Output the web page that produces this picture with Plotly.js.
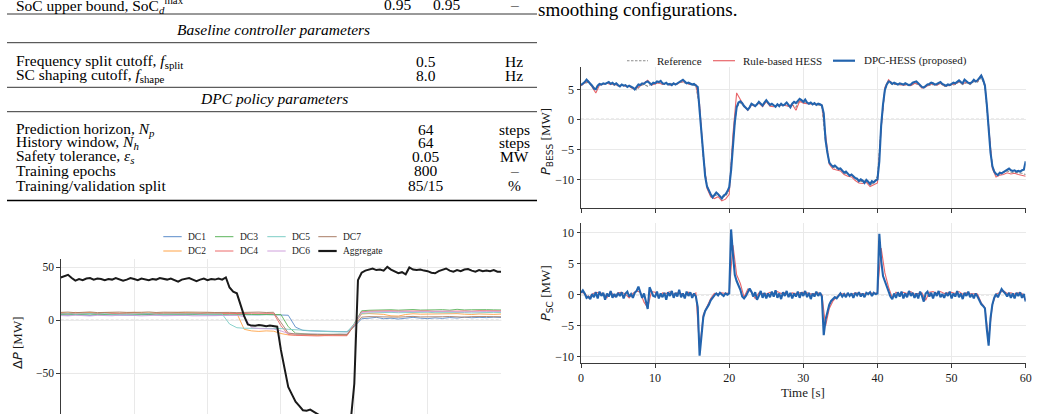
<!DOCTYPE html>
<html>
<head>
<meta charset="utf-8">
<script src="https://cdn.plot.ly/plotly-3.0.1.min.js"></script>
<style>
  html, body { margin: 0; padding: 0; background: #ffffff; }
  #fig { width: 1038px; height: 414px; }
</style>
</head>
<body>
<div id="fig"></div>
<script>
// ---------------- HESS power split, 60 s test profile ----------------
// Sampled series: BESS/SC of the proposed controller at 0.25 s, the rest at 0.5 s.
const HESS_T0 = 0;
const DT_FINE = 0.25;
const DT_COARSE = 0.5;

const pBessDpc = [
  5.7, 5.9, 6.2, 6.6, 6.3, 6.0, 5.6, 5.1, 5.0, 5.6, 5.9, 5.8, 6.0, 5.9, 6.1, 6.2, 5.9, 6.1, 5.8, 6.0,
  5.7, 5.5, 5.8, 5.6, 5.7, 5.4, 5.6, 5.5, 5.3, 5.0, 5.4, 5.8, 5.7, 6.0, 5.9, 6.2, 6.3, 6.0, 5.8, 6.1,
  6.0, 6.3, 6.2, 6.4, 6.0, 5.9, 6.1, 5.8, 5.9, 5.7, 6.0, 5.8, 6.0, 6.2, 6.4, 6.6, 6.3, 6.0, 6.1, 5.9,
  5.8, 5.9, 5.7, 5.4, 1.5, -2.5, -6.8, -9.5, -11.2, -12.0, -12.5, -13.0, -12.6, -12.2, -12.5, -12.9, -13.2, -12.7, -12.5, -12.0,
  -11.3, -8.5, -4.0, -0.5, 2.0, 2.8, 3.0, 2.7, 2.2, 1.9, 1.6, 2.0, 2.6, 2.4, 2.2, 2.5, 2.9, 2.6, 2.3, 2.8,
  3.2, 2.8, 2.4, 2.6, 2.3, 2.1, 2.5, 2.2, 2.6, 2.3, 2.5, 2.8, 2.4, 2.0, 2.6, 2.9, 2.7, 3.1, 3.4, 3.2,
  2.9, 3.3, 2.8, 2.6, 2.8, 2.5, 2.7, 2.4, 2.6, 2.5, 2.3, 1.0, -3.5, -5.6, -7.2, -7.6, -7.9, -7.7, -8.1, -8.3,
  -8.2, -8.6, -8.9, -8.7, -9.1, -9.4, -9.2, -9.6, -9.8, -9.9, -10.3, -10.0, -10.2, -10.6, -10.1, -10.4, -10.8, -10.3, -10.5, -10.2,
  -10.0, -7.0, -1.0, 2.5, 4.9, 5.8, 6.3, 6.2, 5.9, 6.1, 6.0, 5.8, 6.0, 5.9, 5.8, 6.0, 5.9, 5.7, 5.8, 6.1,
  6.2, 6.3, 6.0, 5.7, 5.4, 5.3, 5.6, 5.8, 5.9, 6.1, 6.0, 5.8, 5.9, 6.0, 6.2, 5.9, 5.7, 5.6, 5.8, 5.7,
  5.9, 6.1, 6.0, 6.3, 6.5, 6.2, 6.0, 6.6, 6.3, 6.1, 6.0, 6.2, 6.6, 6.3, 6.5, 7.0, 7.3, 6.6, 5.6, 2.5,
  -1.5, -5.5, -7.8, -8.7, -9.1, -9.3, -8.9, -9.0, -8.8, -8.6, -8.3, -8.2, -8.5, -8.6, -8.5, -8.7, -8.6, -8.7, -8.5, -8.4,
  -7.0
];

const pBessRule = [
  5.6, 6.1, 6.4, 5.3, 4.4, 5.7, 5.9, 6.0, 5.8, 5.9,
  5.6, 5.7, 5.5, 5.5, 5.1, 5.2, 5.6, 6.1, 6.5, 5.7,
  5.9, 6.1, 5.8, 6.0, 5.7, 5.9, 5.9, 6.3, 6.2, 5.9,
  5.8, 5.8, 2.5, -6.0, -11.5, -12.9, -13.2, -12.9, -13.6, -13.3,
  -12.5, -2.5, 4.4, 3.4, 2.2, 1.5, 2.4, 2.2, 2.7, 2.1,
  3.0, 2.2, 2.1, 2.3, 2.4, 2.3, 2.2, 2.5, 1.5, 3.0,
  2.7, 2.6, 2.6, 2.5, 2.5, 2.4, -3.0, -7.5, -8.3, -8.5,
  -8.6, -9.2, -9.5, -9.6, -10.2, -10.6, -10.7, -10.5, -11.2, -10.9,
  -10.6, -1.5, 5.3, 6.6, 6.0, 5.9, 5.8, 5.7, 5.8, 5.6,
  6.0, 5.9, 5.2, 5.4, 5.8, 5.9, 5.7, 6.0, 5.6, 5.6,
  5.8, 5.9, 6.3, 5.9, 6.2, 5.9, 6.4, 6.3, 7.4, 5.8,
  -1.0, -8.2, -9.6, -9.3, -9.2, -8.9, -9.1, -9.0, -9.2, -9.3,
  -9.5
];

const pBessRef = [
  5.8, 6.0, 6.2, 5.5, 5.2, 5.8, 5.9, 6.0, 6.0, 5.7,
  5.6, 5.7, 5.6, 5.4, 5.2, 4.9, 5.6, 5.8, 5.5, 5.9,
  6.0, 6.1, 5.9, 5.9, 5.8, 5.8, 5.9, 6.2, 6.1, 5.9,
  5.7, 5.6, 2.0, -6.5, -11.0, -12.6, -12.7, -12.6, -13.0, -12.8,
  -11.8, -3.5, 2.0, 2.8, 2.1, 1.7, 2.5, 2.3, 2.8, 2.3,
  2.9, 2.3, 2.1, 2.3, 2.3, 2.4, 2.2, 2.4, 2.0, 3.2,
  2.8, 2.7, 2.6, 2.6, 2.4, 2.2, -3.8, -7.4, -8.0, -8.2,
  -8.3, -8.9, -9.2, -9.3, -9.9, -10.2, -10.4, -10.2, -10.9, -10.6,
  -9.5, -1.2, 5.0, 6.2, 5.8, 5.8, 5.8, 5.7, 5.7, 5.6,
  6.0, 5.8, 5.3, 5.5, 5.7, 5.8, 5.7, 6.0, 5.5, 5.6,
  5.7, 5.8, 6.2, 5.8, 6.1, 5.8, 6.3, 6.2, 7.0, 5.5,
  -1.5, -7.9, -9.2, -9.0, -8.9, -8.6, -8.8, -8.8, -8.9, -9.0,
  -9.2
];

const pScDpc = [
  0.3, 0.7, 0.2, -0.5, -0.3, -0.7, 0.1, -0.4, 0.4, -0.6, 0.5, -0.2, 0.3, -0.8, 0.2, -0.3, 0.6, -0.5, 0.1, -0.4,
  0.3, -0.2, 0.4, -0.6, 0.2, 0.5, -0.3, 0.1, -0.5, 0.3, 0.6, 1.3, 0.4, -0.5, 0.2, -1.2, -2.3, 1.2, 0.5, -0.2,
  -0.3, 0.5, -0.6, 0.2, -0.4, 0.3, -0.8, 0.4, -0.2, 0.6, -0.5, 0.3, -0.3, 0.8, -0.4, 0.2, -0.6, 0.5, -0.2, 0.4,
  -0.5, 0.2, -0.3, -2.0, -9.8, -7.0, -3.6, -2.6, -2.2, -1.6, -0.9, -0.4, -0.1, 0.2, -0.1, 0.3, 0.1, -0.2, 0.2, 0.0,
  0.2, 10.5, 6.5, 3.2, 2.2, 1.5, 0.8, -0.3, -0.6, -0.2, 0.3, 1.0, 0.5, -0.3, 0.4, -0.8, -0.2, 0.6, -0.5, 0.3,
  -0.6, 0.2, -0.4, 0.5, -0.3, 0.7, -0.5, 0.2, -0.7, 0.4, -0.2, 0.6, -0.4, 0.3, -0.6, 0.2, -0.3, 0.5, -0.5, 0.4,
  -0.2, 0.6, -0.4, 0.3, -0.7, 0.2, -0.3, 0.5, -0.2, 0.3, -0.3, -6.5, -4.0, -2.5, -1.6, -1.0, -0.7, -0.4, -0.6, -0.2,
  0.2, -0.3, 0.1, -0.4, 0.3, -0.2, 0.2, -0.5, 0.3, -0.1, 0.4, -0.3, 0.2, -0.4, 0.3, 0.1, 0.4, -0.2, 0.3, 0.1,
  0.2, 9.8, 5.5, 3.0, 2.2, 1.6, 0.5, -0.3, -0.7, 0.2, -0.5, 0.4, -0.3, 0.5, -0.6, 0.2, -0.4, 0.6, -0.2, 0.3,
  -0.5, 0.2, -0.6, 0.5, -0.2, -1.1, 0.2, 0.5, -0.3, 0.3, -0.6, 0.4, -0.2, 0.6, -0.4, 0.1, -0.5, 0.3, -0.2, 0.5,
  -0.6, 0.2, -0.3, 0.6, -0.4, 0.2, -0.7, 0.3, -0.2, 0.5, -0.4, 0.1, -0.6, 0.2, -0.3, -1.0, -1.5, -1.8, -2.2, -5.5,
  -8.2, -3.8, -1.6, -0.5, 0.1, -0.4, 0.4, 0.9, 0.5, 0.2, -0.3, 0.3, -0.5, 0.2, -0.6, 0.3, -0.2, 0.4, -0.5, 0.1,
  -1.1
];

const pScRule = [
  0.4, 0.2, -0.5, 0.1, 0.4, 0.3, 0.2, -0.5, 0.5, -0.3,
  0.3, 0.4, 0.1, -0.5, 0.2, 0.6, 0.4, -1.2, -2.1, 0.5,
  0.4, -0.5, 0.3, 0.2, 0.5, 0.1, 0.3, 0.2, -0.1, 0.4,
  0.0, 0.3, -8.8, -3.2, -1.8, -0.6, 0.2, 0.1, 0.3, 0.2,
  0.3, 8.0, 3.2, 1.8, -0.4, 0.9, 0.4, -0.6, 0.3, 0.2,
  0.1, 0.4, 0.2, 0.5, 0.2, 0.3, -0.1, 0.3, 0.2, 0.3,
  0.4, 0.3, 0.1, 0.2, 0.3, 0.0, -5.0, -2.2, -1.0, -0.4,
  0.2, 0.1, 0.1, 0.0, 0.3, 0.2, 0.1, 0.2, 0.3, 0.2,
  0.3, 7.5, 3.5, 1.2, -0.5, 0.4, 0.1, 0.4, 0.2, 0.5,
  0.1, 0.2, 0.3, -0.9, 0.4, 0.5, 0.2, 0.5, 0.2, 0.3,
  0.4, 0.2, 0.5, 0.1, 0.3, 0.2, 0.2, 0.1, -1.3, -2.1,
  -7.2, -1.6, 0.1, 0.4, 0.6, 0.2, 0.3, 0.1, 0.3, 0.2,
  -0.9
];

// ---------------- Per-data-centre power deviation ----------------
const DC_X0 = 0;
const DC_STEP = 1;
const AGG_STEP = 0.5;

const dc1 = [
  5.2, 4.8, 5.5, 5.0, 4.6, 5.3, 5.1, 4.9, 5.4, 5.0,
  4.7, 5.2, 5.5, 5.0, 4.8, 5.3, 5.1, 4.9, 5.2, 5.4,
  5.0, 4.8, 5.1, 5.3, 5.0, 5.2, 4.9, 5.1, 5.4, 5.2,
  5.0, 4.8, -6.5, -9.5, -10.0, -10.3, -10.6, -10.8, -11.0, -10.8,
  -6.0, 1.5, 2.0, 2.8, 1.5, 2.0, 1.2, 2.2, 2.8, 2.0,
  1.6, 2.3, 1.8, 2.6, 2.1, 3.0, 2.4, 2.8, 2.5, 3.0,
  2.7
];
const dc2 = [
  7.2, 6.8, 7.5, 7.0, 7.3, 6.9, 7.4, 7.1, 6.7, 7.2,
  7.5, 7.0, 6.8, 7.3, 7.1, 6.9, 7.4, 7.0, 7.2, 6.8,
  7.1, 7.3, 6.9, 7.0, 6.6, -8.5, -10.0, -10.5, -10.0, -10.3,
  -12.5, -13.8, -14.0, -14.2, -13.9, -14.1, -14.3, -14.0, -14.2, -14.1,
  -4.5, 6.0, 6.4, 5.8, 5.6, 4.2, 4.0, 5.5, 6.2, 5.8,
  6.0, 5.6, 6.1, 5.9, 6.3, 5.8, 5.5, 6.0, 5.7, 5.6,
  5.9
];
const dc3 = [
  5.5, 5.8, 5.2, 5.6, 5.9, 5.4, 5.7, 5.3, 5.6, 5.8,
  5.4, 5.6, 5.2, 5.7, 5.5, 5.9, 5.3, 5.6, 5.4, 5.8,
  5.5, 5.2, 5.6, 5.8, 5.4, 5.7, 5.5, 5.3, 5.6, 5.4,
  5.5, -6.0, -12.2, -12.8, -13.0, -13.2, -12.9, -13.3, -13.1, -13.4,
  -3.0, 9.0, 9.5, 9.8, 9.4, 10.0, 9.6, 9.9, 10.2, 9.7,
  9.5, 9.9, 10.1, 9.6, 10.4, 9.8, 10.0, 9.7, 10.1, 9.9,
  9.8
];
const dc4 = [
  6.5, 6.2, 6.8, 6.4, 6.7, 6.3, 6.9, 6.5, 6.2, 6.6,
  6.8, 6.4, 6.6, 6.2, 6.7, 6.5, 6.9, 6.3, 6.6, 6.4,
  6.7, 6.5, 6.3, 6.8, 6.6, 6.4, 6.7, 6.5, 6.3, 6.6,
  -5.0, -13.5, -14.2, -14.6, -14.4, -14.8, -14.5, -14.7, -14.9, -14.6,
  -4.0, 8.0, 8.6, 8.9, 8.5, 9.0, 8.7, 8.8, 9.1, 8.6,
  8.9, 8.5, 8.8, 9.0, 8.7, 8.9, 8.6, 9.1, 8.8, 8.7,
  8.9
];
const dc5 = [
  6.0, 6.3, 5.8, 6.1, 6.4, 5.9, 6.2, 5.7, 6.0, 6.3,
  5.9, 6.1, 6.4, 5.8, 6.0, 6.2, 5.9, 6.3, 6.1, 5.8,
  6.0, 6.2, 5.9, -3.5, -7.0, -7.5, -7.6, -7.4, -7.7, -7.5,
  -7.8, -8.5, -9.0, -9.6, -10.0, -10.3, -10.5, -10.8, -10.6, -10.9,
  -3.5, 6.5, 7.0, 7.3, 7.1, 7.5, 7.2, 7.4, 7.0, 7.3,
  7.6, 7.2, 7.4, 7.1, 7.5, 7.3, 7.0, 7.4, 7.2, 7.5,
  7.3
];
const dc6 = [
  4.5, 4.2, 4.8, 4.4, 4.1, 4.7, 4.5, 4.3, 4.9, 4.4,
  4.6, 4.2, 4.5, 4.8, 4.3, 4.6, 4.4, 4.7, 4.2, 4.5,
  4.8, 4.4, 4.6, 4.3, 4.7, 3.5, -7.0, -7.8, -8.0, -8.2,
  -10.0, -12.5, -13.0, -12.8, -13.2, -13.0, -13.4, -13.1, -13.3, -13.0,
  -4.0, 7.5, 8.0, 8.3, 8.1, 8.4, 8.0, 8.5, 8.2, 8.3,
  8.1, 8.4, 8.2, 8.6, 8.0, 8.3, 8.5, 8.2, 8.4, 8.1,
  8.3
];
const dc7 = [
  7.5, 7.8, 7.2, 7.6, 7.9, 7.3, 7.7, 7.4, 7.8, 7.5,
  7.2, 7.6, 7.9, 7.4, 7.7, 7.3, 7.6, 7.8, 7.5, 7.2,
  7.6, 7.4, 7.8, 7.5, 7.3, 7.7, 7.5, 7.8, 7.4, 7.6,
  -2.0, -12.0, -13.0, -13.4, -13.2, -13.6, -13.3, -13.5, -13.8, -13.6,
  -5.0, 3.0, 3.5, 3.2, 3.6, 3.3, 3.0, 3.4, 3.7, 3.2,
  3.5, 3.1, 3.4, 3.6, 3.3, 3.0, 3.5, 3.2, 3.6, 3.4,
  3.4
];
const aggregate = [
  40.5, 41.5, 43.0, 40.0, 37.5, 39.0, 38.0, 39.5, 40.0, 38.5,
  39.5, 39.0, 38.0, 39.0, 38.5, 40.0, 39.0, 37.5, 38.5, 40.0,
  39.0, 38.0, 39.5, 38.5, 38.0, 39.0, 38.5, 40.0, 39.0, 38.5,
  39.5, 38.0, 36.5, 38.5, 39.5, 40.0, 38.5, 37.0, 38.5, 39.5,
  38.0, 39.0, 38.5, 39.5, 38.5, 40.5, 31.0, 27.0, 25.5, 14.0,
  4.0, -4.0, -5.0, -5.2, -4.5, -5.0, -5.5, -5.0, -5.2, -6.0,
  -28.0, -47.0, -63.0, -70.0, -77.0, -81.0, -85.0, -85.5, -84.5, -86.5,
  -89.0, -91.0, -93.0, -94.0, -95.0, -95.5, -96.0, -95.5, -96.5, -96.0,
  -60.0, 38.0, 45.0, 47.0, 48.0, 49.0, 47.5, 48.0, 47.0, 50.5,
  48.0, 46.0, 44.5, 45.5, 43.5, 50.0, 48.0, 47.5, 48.0, 47.0,
  46.5, 45.0, 44.5, 46.5, 48.0, 49.0, 47.0, 46.0, 47.5, 46.5,
  48.0, 48.5, 47.0, 46.0, 47.5, 46.5, 47.0, 46.5, 47.5, 46.0,
  46.0
];

const dcNames = ['DC1', 'DC2', 'DC3', 'DC4', 'DC5', 'DC6', 'DC7'];
const dcSeries = [dc1, dc2, dc3, dc4, dc5, dc6, dc7];
const dcColors = ['#5b8cc9', '#ffa347', '#5cb45c', '#ec6a6a', '#7dcdc6', '#cfa0dc', '#a97d66'];

const hessNames = ['Reference', 'Rule-based HESS', 'DPC-HESS (proposed)'];
const hessColors = ['#8c8c8c', '#e8666a', '#2364ae'];

// ---------------- page geometry helpers (pixel -> paper) ----------------
const W = 1038, H = 414;
const px = x => x / W;
const py = y => 1 - y / H;

const SERIF = 'Liberation Serif, Times New Roman, serif';
const INK = '#1a1a1a';
const GRID = '#e9e9e9';
const SPINE = '#3a3a3a';

// ---------------- traces ----------------
const traces = [];

traces.push({
  type: 'scatter', mode: 'lines', name: hessNames[0],
  x0: HESS_T0, dx: DT_COARSE, y: pBessRef, xaxis: 'x', yaxis: 'y',
  line: { color: hessColors[0], width: 1.1, dash: '3px,1.5px' }, hoverinfo: 'skip'
});
traces.push({
  type: 'scatter', mode: 'lines', name: hessNames[1],
  x0: HESS_T0, dx: DT_COARSE, y: pBessRule, xaxis: 'x', yaxis: 'y',
  line: { color: hessColors[1], width: 1.1 }, hoverinfo: 'skip'
});
traces.push({
  type: 'scatter', mode: 'lines', name: hessNames[2],
  x0: HESS_T0, dx: DT_FINE, y: pBessDpc, xaxis: 'x', yaxis: 'y',
  line: { color: hessColors[2], width: 2.1 }, hoverinfo: 'skip'
});
traces.push({
  type: 'scatter', mode: 'lines', name: hessNames[1],
  x0: HESS_T0, dx: DT_COARSE, y: pScRule, xaxis: 'x2', yaxis: 'y2',
  line: { color: hessColors[1], width: 1.1 }, hoverinfo: 'skip'
});
traces.push({
  type: 'scatter', mode: 'lines', name: hessNames[2],
  x0: HESS_T0, dx: DT_FINE, y: pScDpc, xaxis: 'x2', yaxis: 'y2',
  line: { color: hessColors[2], width: 2.1 }, hoverinfo: 'skip'
});

dcSeries.forEach((s, i) => {
  traces.push({
    type: 'scatter', mode: 'lines', name: dcNames[i],
    x0: DC_X0, dx: DC_STEP, y: s, xaxis: 'x3', yaxis: 'y3',
    line: { color: dcColors[i], width: 1 }, opacity: 0.9, hoverinfo: 'skip'
  });
});
traces.push({
  type: 'scatter', mode: 'lines', name: 'Aggregate',
  x0: DC_X0, dx: AGG_STEP, y: aggregate, xaxis: 'x3', yaxis: 'y3',
  line: { color: INK, width: 2 }, hoverinfo: 'skip'
});

// ---------------- axes ----------------
const tickFont = { family: SERIF, size: 12, color: INK };
const baseAxis = {
  showgrid: true, gridcolor: GRID, gridwidth: 1, zeroline: false,
  showline: true, linecolor: SPINE, linewidth: 1,
  ticks: 'outside', ticklen: 3.5, tickwidth: 1, tickcolor: SPINE,
  tickfont: tickFont, fixedrange: true
};

const layout = {
  width: W, height: H,
  margin: { l: 0, r: 0, t: 0, b: 0, pad: 0 },
  paper_bgcolor: '#ffffff', plot_bgcolor: '#ffffff',
  showlegend: false,
  font: { family: SERIF, color: INK },

  xaxis: Object.assign({}, baseAxis, {
    domain: [px(581), px(1025.7)], anchor: 'y', range: [0, 60], dtick: 10, tick0: 0,
    showticklabels: false
  }),
  yaxis: Object.assign({}, baseAxis, {
    domain: [py(208.3), py(67.3)], anchor: 'x', range: [-14.83, 8.67],
    tickvals: [-10, -5, 0, 5]
  }),
  xaxis2: Object.assign({}, baseAxis, {
    domain: [px(581), px(1025.7)], anchor: 'y2', range: [0, 60], dtick: 10, tick0: 0
  }),
  yaxis2: Object.assign({}, baseAxis, {
    domain: [py(363.3), py(222.7)], anchor: 'x2', range: [-11.03, 11.58],
    tickvals: [-10, -5, 0, 5, 10]
  }),
  xaxis3: Object.assign({}, baseAxis, {
    domain: [px(60.7), px(501.1)], anchor: 'y3', range: [0, 60], dtick: 10, tick0: 0,
    showticklabels: false, showline: false, ticks: ''
  }),
  yaxis3: Object.assign({}, baseAxis, {
    domain: [0, py(259.3)], anchor: 'x3', range: [-88.6, 57.7],
    tickvals: [-50, 0, 50], tickfont: { family: SERIF, size: 11.5, color: INK }
  }),

  shapes: [],
  annotations: []
};

// zero reference lines
[['x', 'y'], ['x2', 'y2'], ['x3', 'y3']].forEach(([xa, ya]) => {
  layout.shapes.push({
    type: 'line', xref: xa + ' domain', yref: ya, x0: 0, x1: 1, y0: 0, y1: 0,
    layer: 'below', line: { color: '#8a8a8a', width: 0.9, dash: '3px,2px' }
  });
});

// axis titles
const mathSpan = s => '<span style="font-family:DejaVu Sans">' + s + '</span>';
layout.annotations.push(
  { xref: 'paper', yref: 'paper', x: px(546), y: py(142), textangle: -90, showarrow: false,
    xanchor: 'center', yanchor: 'middle',
    text: mathSpan('<i>P</i><sub>BESS</sub>') + ' [MW]', font: { family: SERIF, size: 13, color: INK } },
  { xref: 'paper', yref: 'paper', x: px(546), y: py(293), textangle: -90, showarrow: false,
    xanchor: 'center', yanchor: 'middle',
    text: mathSpan('<i>P</i><sub>SC</sub>') + ' [MW]', font: { family: SERIF, size: 13, color: INK } },
  { xref: 'paper', yref: 'paper', x: px(803), y: py(392), showarrow: false,
    xanchor: 'center', yanchor: 'middle',
    text: 'Time [s]', font: { family: SERIF, size: 13, color: INK } },
  { xref: 'paper', yref: 'paper', x: px(17), y: py(343), textangle: -90, showarrow: false,
    xanchor: 'center', yanchor: 'middle',
    text: mathSpan('Δ<i>P</i>') + ' [MW]', font: { family: SERIF, size: 13, color: INK } }
);

// legend of the HESS panels
const hessLegend = [
  { x0: 627, x1: 648, tx: 655, color: hessColors[0], width: 1.1, dash: '2.5px,1.5px' },
  { x0: 713, x1: 735, tx: 741, color: hessColors[1], width: 1.2, dash: 'solid' },
  { x0: 833, x1: 855, tx: 862, color: hessColors[2], width: 2.2, dash: 'solid' }
];
hessLegend.forEach((e, i) => {
  layout.shapes.push({
    type: 'line', xref: 'paper', yref: 'paper', x0: px(e.x0), x1: px(e.x1), y0: py(60.7), y1: py(60.7),
    line: { color: e.color, width: e.width, dash: e.dash }
  });
  layout.annotations.push({
    xref: 'paper', yref: 'paper', x: px(e.tx), y: py(60.7), xanchor: 'left', yanchor: 'middle',
    showarrow: false, text: hessNames[i], font: { family: SERIF, size: 11, color: INK }
  });
});

// legend of the data-centre panel (4 columns x 2 rows)
const dcLegendCols = [163.3, 215, 267.3, 318.3];
const dcLegendRows = [236.7, 251];
const dcLegendItems = [
  [dcNames[0], dcColors[0], 1, 0, 0], [dcNames[2], dcColors[2], 1, 1, 0],
  [dcNames[4], dcColors[4], 1, 2, 0], [dcNames[6], dcColors[6], 1, 3, 0],
  [dcNames[1], dcColors[1], 1, 0, 1], [dcNames[3], dcColors[3], 1, 1, 1],
  [dcNames[5], dcColors[5], 1, 2, 1], ['Aggregate', INK, 2.2, 3, 1]
];
dcLegendItems.forEach(([name, color, w, c, r]) => {
  const x0 = dcLegendCols[c];
  layout.shapes.push({
    type: 'line', xref: 'paper', yref: 'paper', x0: px(x0), x1: px(x0 + 18.4),
    y0: py(dcLegendRows[r]), y1: py(dcLegendRows[r]), line: { color: color, width: w }
  });
  layout.annotations.push({
    xref: 'paper', yref: 'paper', x: px(x0 + 22.5), y: py(dcLegendRows[r]), xanchor: 'left', yanchor: 'middle',
    showarrow: false, text: name, font: { family: SERIF, size: 9.5, color: INK }
  });
});

// ---------------- parameter table ----------------
const tableRows = [
  ['SoC upper bound, SoC<sub><i>d</i></sub><sup>max</sup>', 4.5],
  ['Frequency split cutoff, <i>f</i><sub>split</sub>', 61.7],
  ['SC shaping cutoff, <i>f</i><sub>shape</sub>', 75],
  ['Prediction horizon, <i>N<sub>p</sub></i>', 129.3],
  ['History window, <i>N<sub>h</sub></i>', 142.7],
  ['Safety tolerance, <i>ε<sub>s</sub></i>', 156],
  ['Training epochs', 170.7],
  ['Training/validation split', 185]
];
const tableValues = [
  ['0.5', 61.7], ['8.0', 75], ['64', 129.3], ['64', 142.7], ['0.05', 156], ['800', 170.7], ['85/15', 185]
];
const tableUnits = [
  ['–', 4.5], ['Hz', 61.7], ['Hz', 75], ['steps', 129.3], ['steps', 142.7], ['MW', 156], ['–', 170.7], ['%', 185]
];
const tableHeaders = [
  ['Baseline controller parameters', 30], ['DPC policy parameters', 98.3]
];
const tableRules = [[14, 0.8], [42.7, 0.8], [87.3, 0.8], [111.7, 0.8], [200.5, 1.6]];
const TF = { family: SERIF, size: 15.5, color: '#000000' };

tableRows.forEach(([t, y]) => layout.annotations.push({
  xref: 'paper', yref: 'paper', x: px(14), y: py(y), xanchor: 'left', yanchor: 'middle',
  showarrow: false, text: t, font: TF
}));
tableValues.forEach(([t, y]) => layout.annotations.push({
  xref: 'paper', yref: 'paper', x: px(425.8), y: py(y), xanchor: 'center', yanchor: 'middle',
  showarrow: false, text: t, font: TF
}));
[['0.95', 397], ['0.95', 446.5]].forEach(([t, x]) => layout.annotations.push({
  xref: 'paper', yref: 'paper', x: px(x), y: py(4.5), xanchor: 'center', yanchor: 'middle',
  showarrow: false, text: t, font: TF
}));
tableUnits.forEach(([t, y]) => layout.annotations.push({
  xref: 'paper', yref: 'paper', x: px(514), y: py(y), xanchor: 'center', yanchor: 'middle',
  showarrow: false, text: t, font: TF
}));
tableHeaders.forEach(([t, y]) => layout.annotations.push({
  xref: 'paper', yref: 'paper', x: px(273.5), y: py(y), xanchor: 'center', yanchor: 'middle',
  showarrow: false, text: '<i>' + t + '</i>', font: TF
}));
tableRules.forEach(([y, w]) => layout.shapes.push({
  type: 'line', xref: 'paper', yref: 'paper', x0: px(7), x1: px(537), y0: py(y), y1: py(y),
  line: { color: '#000000', width: w }
}));

// running text of the right column
layout.annotations.push({
  xref: 'paper', yref: 'paper', x: px(536), y: py(10), xanchor: 'left', yanchor: 'middle',
  showarrow: false, text: 'smoothing configurations.', font: { family: SERIF, size: 19, color: '#000000' }
});

Plotly.newPlot('fig', traces, layout, { staticPlot: true, displayModeBar: false });
</script>
</body>
</html>
